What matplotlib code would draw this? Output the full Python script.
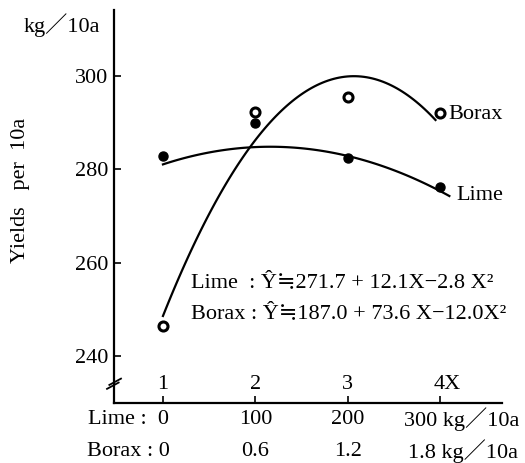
import numpy as np
import matplotlib.pyplot as plt
import matplotlib.transforms as mtransforms

plt.rcParams['font.family'] = ['Liberation Serif', 'DejaVu Serif', 'Noto Sans CJK JP']

# observed yields (kg/10a) at levels X = 1..4
levels = [1, 2, 3, 4]
lime_yield = [282.7, 289.9, 282.3, 276.2]
borax_yield = [246.5, 292.2, 295.4, 292.0]

# fitted quadratic coefficients (from the chart)
lime_coef = [271.7, 12.1, -2.8]
borax_coef = [187.0, 73.6, -12.0]

lime_doses = ['0', '100', '200']
borax_doses = ['0', '0.6', '1.2']
x_labels = ['1', '2', '3']
y_ticks = [240, 260, 280, 300]

fig = plt.figure(figsize=(5.25, 4.63), dpi=100)
ax = fig.add_axes([114 / 525, 60 / 463, 388 / 525, 393 / 463])
ax.set_xlim(0.47, 4.67)
ax.set_ylim(230, 314)

for s in ['top', 'right']:
    ax.spines[s].set_visible(False)
ax.spines['left'].set_linewidth(1.6)
ax.spines['bottom'].set_linewidth(1.6)

ax.set_yticks(y_ticks)
ax.tick_params(axis='y', direction='in', length=5, width=1.2, labelsize=16, pad=4)
ax.set_xticks(levels)
ax.set_xticklabels([])
ax.tick_params(axis='x', direction='in', length=5, width=1.2)

# fitted curves
xl = np.linspace(1.0, 4.1, 100)
ax.plot(xl, lime_coef[0] + lime_coef[1] * xl + lime_coef[2] * xl ** 2, color='black', lw=1.6)
xb = np.linspace(1.0, 3.95, 100)
ax.plot(xb, borax_coef[0] + borax_coef[1] * xb + borax_coef[2] * xb ** 2, color='black', lw=1.6)

# observed points
ax.plot(levels, lime_yield, 'o', color='black', ms=6.5)
ax.plot(levels, borax_yield, 'o', mfc='white', mec='black', mew=2.2, ms=6.5)

# curve labels
ax.annotate('Borax', (4, borax_yield[3]), xytext=(6, -1), textcoords='offset points',
            fontsize=16, va='center', ha='left')
ax.annotate('Lime', (4, lime_yield[3]), xytext=(12, -6), textcoords='offset points',
            fontsize=16, va='center', ha='left')

# equations
ax.text(1.3, 255.8, 'Lime  : Ŷ≒271.7 + 12.1X−2.8 X²', fontsize=16, va='center')
ax.text(1.3, 249.2, 'Borax : Ŷ≒187.0 + 73.6 X−12.0X²', fontsize=16, va='center')

# X level labels inside the axis
trans = mtransforms.blended_transform_factory(ax.transData, ax.transAxes)
for x, lab in zip(levels[:3], x_labels):
    ax.text(x, 0.046, lab, transform=trans, ha='center', va='center', fontsize=16)
ax.annotate('4X', (4, 0.046), xycoords=trans, xytext=(-5, 0), textcoords='offset points',
            ha='left', va='center', fontsize=16)

# dose rows below the axis
row1 = -16 / 393
row2 = -48 / 393
for x, lab in zip(levels[1:3], lime_doses[1:]):
    ax.text(x, row1, lab, transform=trans, ha='center', va='center', fontsize=16, clip_on=False)
for x, lab in zip(levels[1:3], borax_doses[1:]):
    ax.text(x, row2, lab, transform=trans, ha='center', va='center', fontsize=16, clip_on=False)
ax.text(1.06, row1, 'Lime :  ' + lime_doses[0], transform=trans, ha='right', va='center', fontsize=16)
ax.text(1.07, row2, 'Borax : ' + borax_doses[0], transform=trans, ha='right', va='center', fontsize=16)
ax.text(3.61, row1, '300 kg／10a', transform=trans, ha='left', va='center', fontsize=16)
ax.text(3.655, row2, '1.8 kg／10a', transform=trans, ha='left', va='center', fontsize=16)

# axis titles
fig.text(62 / 525, 1 - 25 / 463, 'kg／10a', ha='center', va='center', fontsize=16)
fig.text(20 / 525, 1 - 190 / 463, 'Yields   per  10a', ha='center', va='center',
         rotation=90, fontsize=16)

# break mark on the y axis
ax.plot([0, 0], [0.035, 0.06], transform=ax.transAxes, color='white', lw=3, clip_on=False)
ax.plot([-0.018, 0.012], [0.036, 0.052], transform=ax.transAxes, color='black', lw=1.3, clip_on=False)
ax.plot([-0.012, 0.018], [0.046, 0.062], transform=ax.transAxes, color='black', lw=1.3, clip_on=False)

fig.savefig('out.png', dpi=100)
